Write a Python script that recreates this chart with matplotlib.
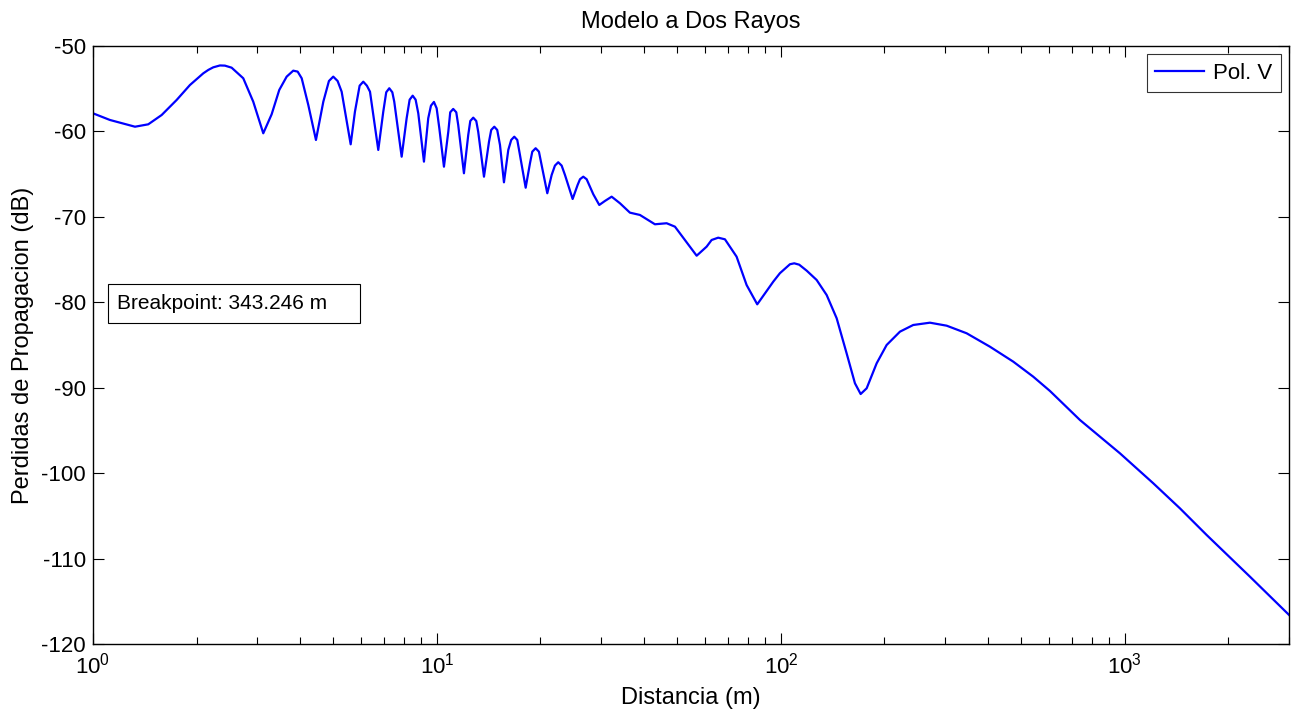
import matplotlib
matplotlib.use("Agg")
import matplotlib.pyplot as plt
from matplotlib.patches import Rectangle
from matplotlib.ticker import LogLocator, NullFormatter

plt.rcParams["font.family"] = ["Liberation Sans", "DejaVu Sans"]
plt.rcParams["mathtext.default"] = "regular"
plt.rcParams["axes.unicode_minus"] = False

# ------------------------------------------------------------------
# Data
# ------------------------------------------------------------------
distancia = [
    1.00, 1.12, 1.325, 1.448, 1.584, 1.751, 1.914, 2.093, 2.165, 2.237,
    2.340, 2.419, 2.530, 2.735, 2.924, 3.127, 3.307, 3.480, 3.657, 3.822,
    3.936, 4.044, 4.227, 4.449, 4.674, 4.853, 4.995, 5.143, 5.284, 5.613,
    5.776, 5.960, 6.107, 6.257, 6.388, 6.752, 6.982, 7.121, 7.268, 7.418,
    7.514, 7.896, 8.164, 8.329, 8.500, 8.670, 8.825, 9.167, 9.434, 9.607,
    9.80, 9.98, 10.16, 10.48, 10.79, 10.93, 11.15, 11.38, 11.53, 11.98,
    12.33, 12.50, 12.75, 13.01, 13.18, 13.70, 14.17, 14.38, 14.68, 14.97,
    15.25, 15.66, 16.12, 16.44, 16.78, 17.12, 17.43, 18.11, 18.64, 18.93,
    19.36, 19.79, 20.24, 20.93, 21.55, 22.03, 22.52, 23.04, 23.56, 24.80,
    25.64, 26.05, 26.63, 27.24, 28.48, 29.64, 30.79, 32.20, 34.04, 36.39,
    38.91, 43.02, 46.53, 49.19, 52.60, 56.88, 60.81, 62.87, 65.71, 68.74,
    74.31, 79.47, 85.33, 94.98, 99.3, 106.2, 109.3, 113.0, 118.8, 127.0,
    135.8, 145.2, 155.2, 164.1, 170.5, 177.5, 189.8, 202.9, 221.8, 242.4,
    271.1, 303.2, 346.6, 405.1, 473.5, 541.3, 605.3, 740.0, 967.2, 1209,
    1445, 1728, 2309, 2951, 3000,
]
perdidas = [
    -57.88, -58.66, -59.45, -59.17, -58.08, -56.32, -54.57, -53.20, -52.80, -52.50,
    -52.28, -52.30, -52.54, -53.78, -56.52, -60.22, -58.00, -55.15, -53.59, -52.89,
    -53.00, -53.78, -56.91, -61.00, -56.52, -54.10, -53.59, -54.10, -55.35, -61.51,
    -57.69, -54.65, -54.18, -54.65, -55.35, -62.17, -57.69, -55.42, -54.95, -55.42,
    -56.52, -62.96, -58.46, -56.29, -55.82, -56.29, -57.88, -63.54, -58.46, -56.99,
    -56.55, -57.29, -59.63, -64.13, -60.03, -57.76, -57.37, -57.76, -59.25, -64.90,
    -60.42, -58.78, -58.39, -58.78, -60.03, -65.30, -61.20, -59.83, -59.45, -59.83,
    -61.59, -65.96, -62.17, -61.00, -60.62, -61.00, -62.76, -66.59, -63.73, -62.37,
    -61.97, -62.37, -64.32, -67.24, -65.10, -64.00, -63.61, -64.00, -65.10, -67.91,
    -66.27, -65.60, -65.30, -65.60, -67.36, -68.61, -68.14, -67.64, -68.41, -69.51,
    -69.78, -70.87, -70.75, -71.15, -72.71, -74.55, -73.49, -72.71, -72.44, -72.63,
    -74.66, -77.98, -80.24, -77.59, -76.60, -75.55, -75.44, -75.60, -76.30, -77.39,
    -79.15, -81.87, -85.97, -89.48, -90.74, -90.07, -87.14, -85.00, -83.44, -82.66,
    -82.39, -82.74, -83.63, -85.20, -86.95, -88.71, -90.38, -93.78, -97.68, -101.19,
    -104.12, -107.24, -112.12, -116.33, -116.60,
]
y_ticks = [-120, -110, -100, -90, -80, -70, -60, -50]
breakpoint_text = "Breakpoint: 343.246 m"

# ------------------------------------------------------------------
# Figure
# ------------------------------------------------------------------
fig = plt.figure(figsize=(12.91, 7.15), dpi=100)
ax = fig.add_axes([0.072, 0.0993, 0.9265, 0.8364])

ax.semilogx(distancia, perdidas, color="#0000FF", lw=1.6, label="Pol. V")

ax.set_xlim(1, 3000)
ax.set_ylim(-120, -50)
ax.set_yticks(y_ticks)
ax.xaxis.set_major_locator(LogLocator(base=10, numticks=10))
ax.xaxis.set_minor_locator(LogLocator(base=10, subs=range(2, 10), numticks=20))
ax.xaxis.set_minor_formatter(NullFormatter())

ax.tick_params(which="both", direction="in", top=True, right=True,
               labelsize=16, colors="black")
ax.tick_params(which="major", length=8, width=0.8)
ax.tick_params(which="minor", length=5, width=0.8)
ax.tick_params(axis="x", pad=6)
ax.tick_params(axis="y", pad=5)
for sp in ax.spines.values():
    sp.set_linewidth(1.0)

ax.set_title("Modelo a Dos Rayos", fontsize=17, pad=13)
ax.set_xlabel("Distancia (m)", fontsize=17, labelpad=6)
ax.set_ylabel("Perdidas de Propagacion (dB)", fontsize=17, labelpad=5.5)

leg = ax.legend(loc="upper right", fontsize=16, frameon=True, fancybox=False,
                edgecolor="black", borderaxespad=0.38, handlelength=2.2,
                handletextpad=0.4, borderpad=0.38)
leg.get_frame().set_linewidth(0.8)

# text box with the breakpoint value
ax.add_patch(Rectangle((0.0125, 0.5368), 0.2107, 0.0652, transform=ax.transAxes,
                       facecolor="white", edgecolor="black", lw=0.8, zorder=4))
ax.text(0.0201, 0.5694, breakpoint_text, transform=ax.transAxes,
        fontsize=15, ha="left", va="center", zorder=5)

fig.savefig("out.png", dpi=100, facecolor="white")
